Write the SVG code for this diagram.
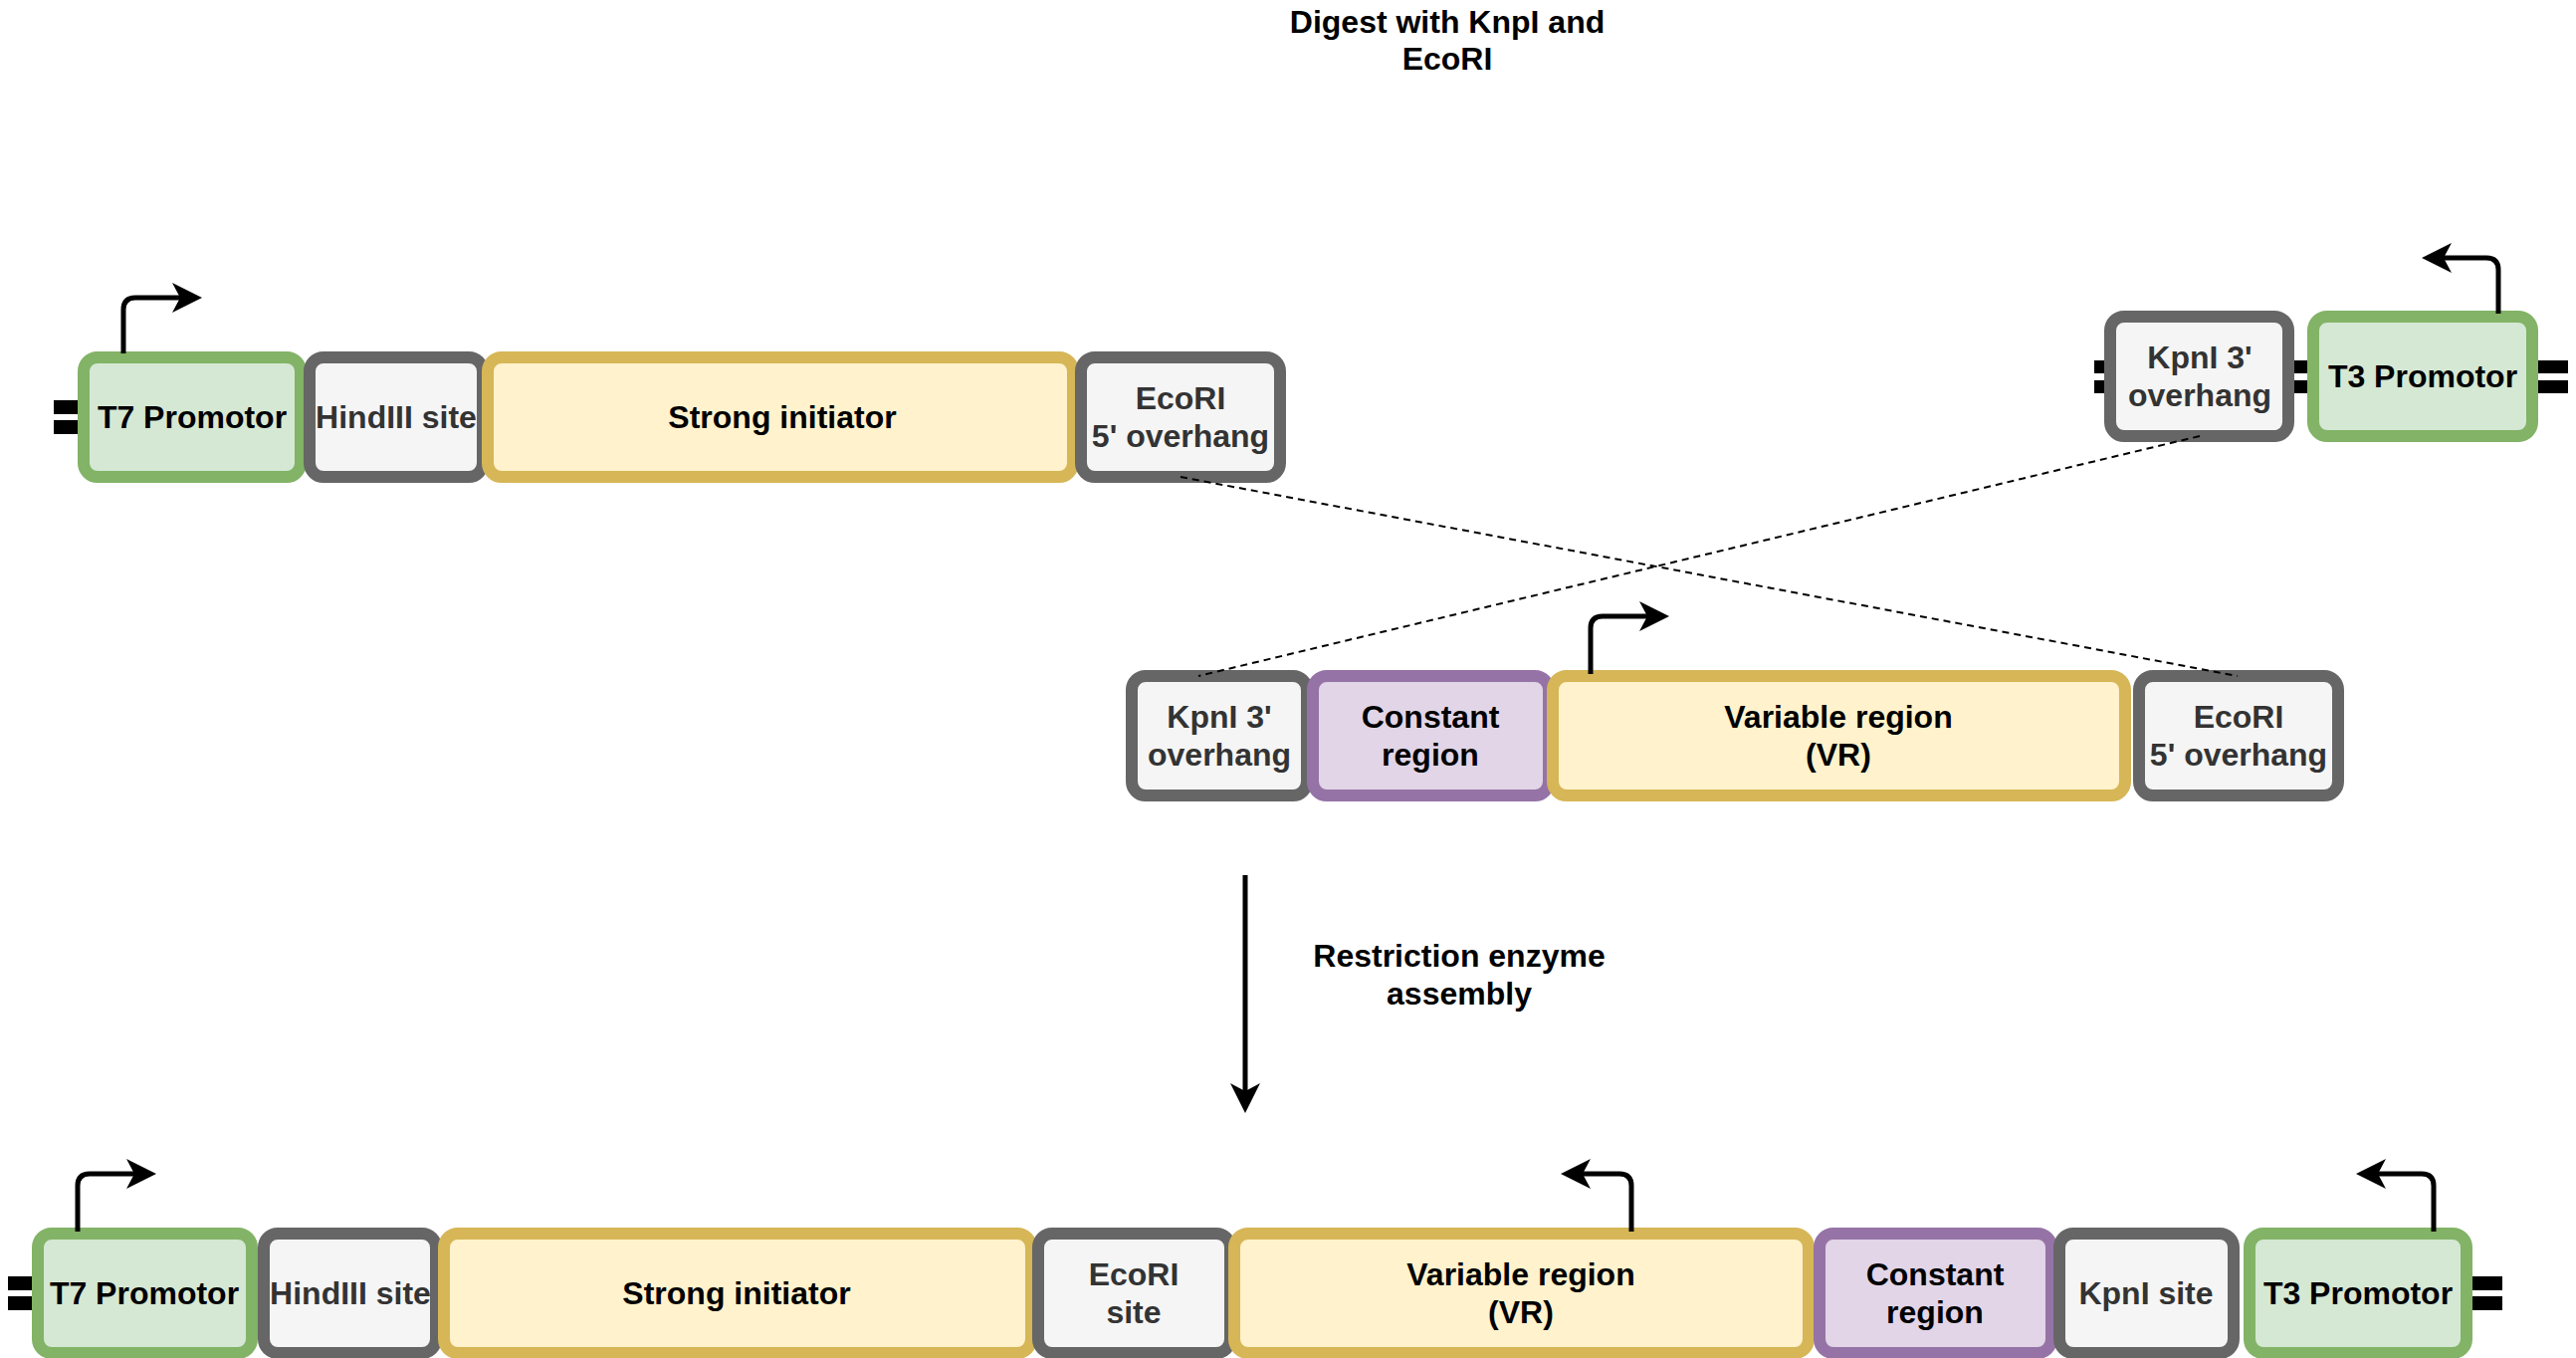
<svg xmlns="http://www.w3.org/2000/svg" width="2588" height="1364" viewBox="0 0 2588 1364">
<style>
text{font-family:"Liberation Sans",Arial,sans-serif;font-weight:bold;font-size:32px;text-anchor:middle;fill:#000}
.box{stroke-width:12}
.g{fill:#d5e8d4;stroke:#82b366}
.s{fill:#f5f5f5;stroke:#666666}
.y{fill:#fff2cc;stroke:#d6b656}
.p{fill:#e1d5e7;stroke:#9673a6}
.s + text, text.dk{fill:#333333}
.bar{fill:#000}
.arr{fill:none;stroke:#000;stroke-width:5}
.dash{fill:none;stroke:#000;stroke-width:2;stroke-dasharray:7 5}
</style>
<defs>
<marker id="ah" viewBox="0 -15 30 30" markerWidth="30" markerHeight="30" refX="8" refY="0" orient="auto" markerUnits="userSpaceOnUse">
<path d="M0,-15 L30,0 L0,15 L8,0 Z" fill="#000"/>
</marker>
</defs>
<rect width="2588" height="1364" fill="#fff"/>

<g id="labels">
<text x="1454" y="33">Digest with KnpI and</text>
<text x="1454" y="70">EcoRI</text>
<text x="1466" y="971">Restriction enzyme</text>
<text x="1466" y="1009">assembly</text>
</g>

<g id="backbone">
<rect class="bar" x="54" y="402" width="30" height="14"/>
<rect class="bar" x="54" y="422" width="30" height="14"/>
<rect class="bar" x="2104" y="362" width="16" height="13"/>
<rect class="bar" x="2104" y="382" width="16" height="13"/>
<rect class="bar" x="2299" y="362" width="25" height="13"/>
<rect class="bar" x="2299" y="382" width="25" height="13"/>
<rect class="bar" x="2544" y="362" width="36" height="13"/>
<rect class="bar" x="2544" y="382" width="36" height="13"/>
<rect class="bar" x="8" y="1282" width="30" height="14"/>
<rect class="bar" x="8" y="1302" width="30" height="14"/>
<rect class="bar" x="2478" y="1282" width="36" height="14"/>
<rect class="bar" x="2478" y="1302" width="36" height="14"/>
</g>

<!-- top row -->
<g id="top-t7"><rect class="box g" x="84" y="359" width="218" height="120" rx="14"/><text x="193" y="430">T7 Promotor</text></g>
<g id="top-hind"><rect class="box s" x="311" y="359" width="174" height="120" rx="14"/><text class="dk" x="398" y="430">HindIII site</text></g>
<g id="top-strong"><rect class="box y" x="490" y="359" width="588" height="120" rx="14"/><text x="786" y="430">Strong initiator</text></g>
<g id="top-ecori"><rect class="box s" x="1086" y="359" width="200" height="120" rx="14"/><text class="dk" x="1186" y="411">EcoRI</text><text class="dk" x="1186" y="449">5' overhang</text></g>
<g id="top-kpni"><rect class="box s" x="2120" y="318" width="179" height="120" rx="14"/><text class="dk" x="2210" y="370">KpnI 3'</text><text class="dk" x="2210" y="408">overhang</text></g>
<g id="top-t3"><rect class="box g" x="2324" y="318" width="220" height="120" rx="14"/><text x="2434" y="389">T3 Promotor</text></g>

<!-- middle row -->
<g id="mid-kpni"><rect class="box s" x="1137" y="679" width="176" height="120" rx="14"/><text class="dk" x="1225" y="731">KpnI 3'</text><text class="dk" x="1225" y="769">overhang</text></g>
<g id="mid-const"><rect class="box p" x="1319" y="679" width="237" height="120" rx="14"/><text x="1437" y="731">Constant</text><text x="1437" y="769">region</text></g>
<g id="mid-vr"><rect class="box y" x="1560" y="679" width="575" height="120" rx="14"/><text x="1847" y="731">Variable region</text><text x="1847" y="769">(VR)</text></g>
<g id="mid-ecori"><rect class="box s" x="2149" y="679" width="200" height="120" rx="14"/><text class="dk" x="2249" y="731">EcoRI</text><text class="dk" x="2249" y="769">5' overhang</text></g>

<!-- bottom row -->
<g id="bot-t7"><rect class="box g" x="38" y="1239" width="215" height="120" rx="14"/><text x="145" y="1310">T7 Promotor</text></g>
<g id="bot-hind"><rect class="box s" x="265" y="1239" width="173" height="120" rx="14"/><text class="dk" x="352" y="1310">HindIII site</text></g>
<g id="bot-strong"><rect class="box y" x="446" y="1239" width="590" height="120" rx="14"/><text x="740" y="1310">Strong initiator</text></g>
<g id="bot-ecori"><rect class="box s" x="1043" y="1239" width="193" height="120" rx="14"/><text class="dk" x="1139" y="1291">EcoRI</text><text class="dk" x="1139" y="1329">site</text></g>
<g id="bot-vr"><rect class="box y" x="1240" y="1239" width="577" height="120" rx="14"/><text x="1528" y="1291">Variable region</text><text x="1528" y="1329">(VR)</text></g>
<g id="bot-const"><rect class="box p" x="1828" y="1239" width="233" height="120" rx="14"/><text x="1944" y="1291">Constant</text><text x="1944" y="1329">region</text></g>
<g id="bot-kpni"><rect class="box s" x="2069" y="1239" width="175" height="120" rx="14"/><text class="dk" x="2156" y="1310">KpnI site</text></g>
<g id="bot-t3"><rect class="box g" x="2260" y="1239" width="218" height="120" rx="14"/><text x="2369" y="1310">T3 Promotor</text></g>

<g id="connectors">
<path class="dash" d="M1186,479 L2248,679"/>
<path class="dash" d="M2210,438 L1204,679"/>
<path class="arr" marker-end="url(#ah)" d="M124,355 V311 Q124,299 136,299 H181"/>
<path class="arr" marker-end="url(#ah)" d="M2510,315 V271 Q2510,259 2498,259 H2455"/>
<path class="arr" marker-end="url(#ah)" d="M1598,677 V631 Q1598,619 1610,619 H1655"/>
<path class="arr" marker-end="url(#ah)" d="M78,1237 V1191 Q78,1179 90,1179 H135"/>
<path class="arr" marker-end="url(#ah)" d="M1639,1237 V1191 Q1639,1179 1627,1179 H1590"/>
<path class="arr" marker-end="url(#ah)" d="M2445,1237 V1191 Q2445,1179 2433,1179 H2389"/>
<path class="arr" marker-end="url(#ah)" d="M1251,879 V1096"/>
</g>
</svg>
